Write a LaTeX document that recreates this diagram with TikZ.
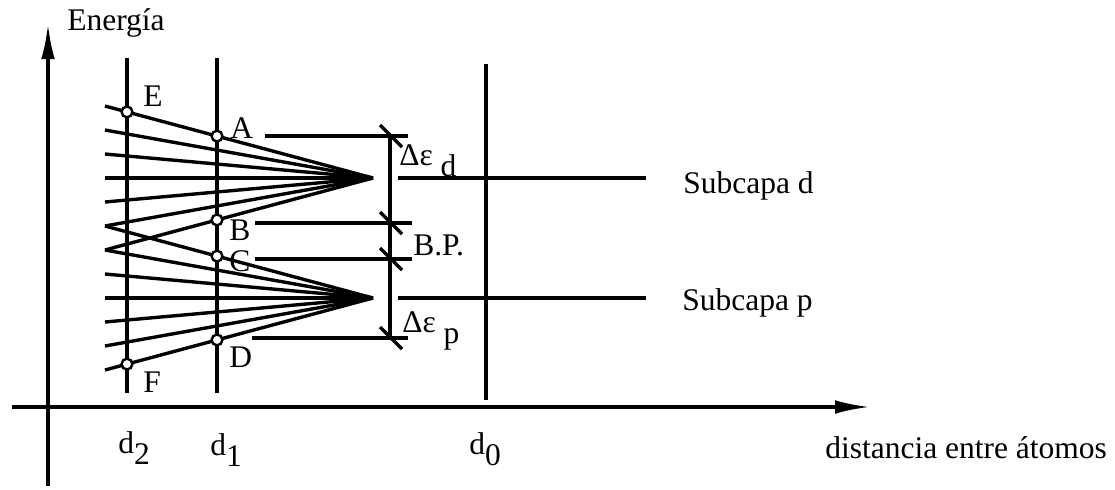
\documentclass[tikz,border=0pt]{standalone}
\usepackage{fontspec}
\setmainfont{Liberation Serif}
\usetikzlibrary{arrows.meta,calc}

\newcommand{\lowsub}[1]{\raisebox{-0.38em}{#1}}

\begin{document}
\begin{tikzpicture}[x=0.025cm, y=-0.025cm,
    heavy/.style={line width=2.4pt},
    axisline/.style={line width=2.4pt, -{Latex[length=0.875cm, width=0.34cm]}},
    tick/.style={line width=2.4pt},
    ptmark/.style={circle, draw, fill=white, line width=1.7pt, inner sep=0pt, minimum size=0.27cm},
    txt/.style={anchor=base west, inner sep=0pt, font=\fontsize{22.4}{26}\selectfont}]
    \useasboundingbox (0,0) rectangle (1115,489);

    % Axes
    \coordinate (yfoot) at (48,486);
    \coordinate (ytip) at (48,24);
    \coordinate (xfoot) at (12,407);
    \coordinate (xtip) at (870,407);
    \draw[axisline] (yfoot) -- (ytip);
    \draw[axisline] (xfoot) -- (xtip);

    % Vertical lines at d2, d1, d0
    \coordinate (d2top) at (127,58);
    \coordinate (d2bot) at (127,393);
    \coordinate (d1top) at (217,58);
    \coordinate (d1bot) at (217,393);
    \coordinate (d0top) at (486,64);
    \coordinate (d0bot) at (486,400);
    \draw[heavy] (d2top) -- (d2bot);
    \draw[heavy] (d1top) -- (d1bot);
    \draw[heavy] (d0top) -- (d0bot);

    % Left ends of the levels (shared by both bands at u6, u7)
    \coordinate (u1) at (105,106);
    \coordinate (u2) at (105,130);
    \coordinate (u3) at (105,154);
    \coordinate (u4) at (105,178);
    \coordinate (u5) at (105,202);
    \coordinate (u6) at (105,226);
    \coordinate (u7) at (105,250);
    \coordinate (l3) at (105,274);
    \coordinate (l4) at (105,298);
    \coordinate (l5) at (105,322);
    \coordinate (l6) at (105,346);
    \coordinate (l7) at (105,370);

    % Where the bands close into a single level
    \coordinate (cd) at (373,178);
    \coordinate (cp) at (373,298);

    % Band d
    \draw[heavy] (u1) -- (cd);
    \draw[heavy] (u2) -- (cd);
    \draw[heavy] (u3) -- (cd);
    \draw[heavy] (u4) -- (cd);
    \draw[heavy] (u5) -- (cd);
    \draw[heavy] (u6) -- (cd);
    \draw[heavy] (u7) -- (cd);

    % Band p
    \draw[heavy] (u6) -- (cp);
    \draw[heavy] (u7) -- (cp);
    \draw[heavy] (l3) -- (cp);
    \draw[heavy] (l4) -- (cp);
    \draw[heavy] (l5) -- (cp);
    \draw[heavy] (l6) -- (cp);
    \draw[heavy] (l7) -- (cp);

    % Isolated-atom levels
    \coordinate (sd0) at (398,178);
    \coordinate (sd1) at (646,178);
    \coordinate (sp0) at (398,298);
    \coordinate (sp1) at (646,298);
    \draw[heavy] (sd0) -- (sd1);
    \draw[heavy] (sp0) -- (sp1);

    % Reference lines for the widths
    \coordinate (ra0) at (265,136);
    \coordinate (ra1) at (408,136);
    \coordinate (rb0) at (255,223);
    \coordinate (rb1) at (412,223);
    \coordinate (rc0) at (255,259);
    \coordinate (rc1) at (412,259);
    \coordinate (rd0) at (252,338);
    \coordinate (rd1) at (408,338);
    \draw[heavy] (ra0) -- (ra1);
    \draw[heavy] (rb0) -- (rb1);
    \draw[heavy] (rc0) -- (rc1);
    \draw[heavy] (rd0) -- (rd1);

    % Dimension line with slashes
    \coordinate (dimtop) at (390,136);
    \coordinate (dimbot) at (390,338);
    \draw[heavy] (dimtop) -- (dimbot);
    \draw[tick] ($(391,136)+(-11,-11)$) -- ($(391,136)+(11,11)$);
    \draw[tick] ($(391,223)+(-11,-11)$) -- ($(391,223)+(11,11)$);
    \draw[tick] ($(391,259)+(-11,-11)$) -- ($(391,259)+(11,11)$);
    \draw[tick] ($(391,338)+(-11,-11)$) -- ($(391,338)+(11,11)$);

    % Marked points
    \coordinate (E) at ($(u1)!0.082!(cd)$);
    \coordinate (A) at ($(u1)!0.418!(cd)$);
    \coordinate (B) at ($(u7)!0.418!(cd)$);
    \coordinate (C) at ($(u6)!0.418!(cp)$);
    \coordinate (D) at ($(l7)!0.418!(cp)$);
    \coordinate (F) at ($(l7)!0.082!(cp)$);
    \node[ptmark] (pE) at (E) {};
    \node[ptmark] (pA) at (A) {};
    \node[ptmark] (pB) at (B) {};
    \node[ptmark] (pC) at (C) {};
    \node[ptmark] (pD) at (D) {};
    \node[ptmark] (pF) at (F) {};

    % Labels
    \node[txt] (energy) at (67,30) {Energía};
    \node[txt] (tE) at (143,106) {E};
    \node[txt] (tA) at (230,138) {A};
    \node[txt] (tB) at (229,240) {B};
    \node[txt] (tC) at (229,271) {C};
    \node[txt] (tD) at (229,367) {D};
    \node[txt] (tF) at (143,392) {F};

    \node[txt] (wd) at (399,165) {Δε \lowsub{d}};
    \node[txt] (gap) at (413,255) {B.P.};
    \node[txt] (wp) at (402,332) {Δε \lowsub{p}};

    \node[txt] (subd) at (683,193) {Subcapa d};
    \node[txt] (subp) at (682,310) {Subcapa p};

    \node[txt] (tdtwo) at (118,453) {d\lowsub{2}};
    \node[txt] (tdone) at (210,455) {d\lowsub{1}};
    \node[txt] (tdzero) at (469,454) {d\lowsub{0}};
    \node[txt] (dist) at (825,458) {distancia entre átomos};

\end{tikzpicture}
\end{document}
